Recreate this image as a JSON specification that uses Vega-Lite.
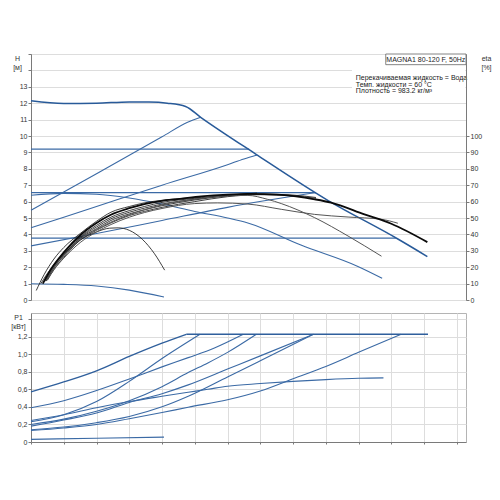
{
  "$schema": "https://vega.github.io/schema/vega-lite/v6.json",
  "background": "white",
  "padding": {"left": 10, "top": 53, "right": 4, "bottom": 4},
  "config": {
    "font": "Liberation Sans",
    "view": {"stroke": "#b4b4b4", "strokeWidth": 1},
    "axis": {
      "labelFontSize": 7, "labelColor": "#333333", "labelPadding": 1,
      "titleFontSize": 7, "titleFontWeight": "normal", "titleColor": "#333333",
      "gridColor": "#dddddd", "gridWidth": 1,
      "domainColor": "#7a7a7a", "tickColor": "#7a7a7a", "tickSize": 3
    }
  },
  "datasets": {
    "h": [
      {"c": "A", "q": 0, "h": 12.15}, {"c": "A", "q": 5, "h": 11.98}, {"c": "A", "q": 10, "h": 12.0},
      {"c": "A", "q": 15, "h": 12.08}, {"c": "A", "q": 18, "h": 12.07}, {"c": "A", "q": 20.8, "h": 12.0},
      {"c": "A", "q": 23.6, "h": 11.8}, {"c": "A", "q": 25.9, "h": 11.14}, {"c": "A", "q": 34.3, "h": 8.9},
      {"c": "A", "q": 45.3, "h": 6.08}, {"c": "A", "q": 56, "h": 3.72}, {"c": "A", "q": 60.5, "h": 2.65},
      {"c": "B", "q": 0, "h": 5.47}, {"c": "B", "q": 10, "h": 7.7}, {"c": "B", "q": 20, "h": 9.95},
      {"c": "B", "q": 23.9, "h": 10.84}, {"c": "B", "q": 25.9, "h": 11.14},
      {"c": "C", "q": 0, "h": 9.2}, {"c": "C", "q": 33.3, "h": 9.2},
      {"c": "D", "q": 0, "h": 4.4}, {"c": "D", "q": 10, "h": 5.7}, {"c": "D", "q": 20, "h": 7.0},
      {"c": "D", "q": 30, "h": 8.25}, {"c": "D", "q": 32.5, "h": 8.6}, {"c": "D", "q": 34.5, "h": 8.84},
      {"c": "E", "q": 0, "h": 6.55}, {"c": "E", "q": 43.5, "h": 6.55},
      {"c": "G", "q": 0, "h": 3.3}, {"c": "G", "q": 10, "h": 4.05}, {"c": "G", "q": 20, "h": 4.85},
      {"c": "G", "q": 30, "h": 5.65}, {"c": "G", "q": 43.5, "h": 6.55},
      {"c": "F", "q": 0, "h": 6.39}, {"c": "F", "q": 5, "h": 6.5}, {"c": "F", "q": 10, "h": 6.45},
      {"c": "F", "q": 15, "h": 6.22}, {"c": "F", "q": 20, "h": 5.85}, {"c": "F", "q": 25, "h": 5.4},
      {"c": "F", "q": 30, "h": 5.0}, {"c": "F", "q": 33.1, "h": 4.7}, {"c": "F", "q": 41.2, "h": 3.35},
      {"c": "F", "q": 49.9, "h": 2.05}, {"c": "F", "q": 53.6, "h": 1.33},
      {"c": "K", "q": 0, "h": 3.77}, {"c": "K", "q": 55.7, "h": 3.77},
      {"c": "I", "q": 0, "h": 0.99}, {"c": "I", "q": 5, "h": 0.95}, {"c": "I", "q": 10, "h": 0.85},
      {"c": "I", "q": 15, "h": 0.6}, {"c": "I", "q": 20.3, "h": 0.18}
    ],
    "e": [
      {"c": "maxe", "q": 1.8, "eta": 10}, {"c": "maxe", "q": 3, "eta": 18.5}, {"c": "maxe", "q": 5, "eta": 29},
      {"c": "maxe", "q": 7.5, "eta": 39.5}, {"c": "maxe", "q": 10, "eta": 47}, {"c": "maxe", "q": 12.2, "eta": 52},
      {"c": "maxe", "q": 15, "eta": 56}, {"c": "maxe", "q": 17.3, "eta": 58.5}, {"c": "maxe", "q": 20, "eta": 60.5},
      {"c": "maxe", "q": 22.4, "eta": 61.5}, {"c": "maxe", "q": 26, "eta": 63.2}, {"c": "maxe", "q": 30, "eta": 64.3},
      {"c": "maxe", "q": 33.1, "eta": 64.7}, {"c": "maxe", "q": 38.2, "eta": 64.1}, {"c": "maxe", "q": 43.3, "eta": 61.4},
      {"c": "maxe", "q": 45.8, "eta": 59.4}, {"c": "maxe", "q": 50.9, "eta": 52.2}, {"c": "maxe", "q": 55, "eta": 46.5},
      {"c": "maxe", "q": 60.5, "eta": 35.3},
      {"c": "Be", "q": 0.8, "eta": 5.8}, {"c": "Be", "q": 2, "eta": 15.5}, {"c": "Be", "q": 3.5, "eta": 25},
      {"c": "Be", "q": 5, "eta": 32}, {"c": "Be", "q": 7.5, "eta": 40.5}, {"c": "Be", "q": 10, "eta": 48},
      {"c": "Be", "q": 12.2, "eta": 53.5}, {"c": "Be", "q": 15, "eta": 57}, {"c": "Be", "q": 17.3, "eta": 59.2},
      {"c": "Be", "q": 20, "eta": 60.8}, {"c": "Be", "q": 24, "eta": 62.2}, {"c": "Be", "q": 25.9, "eta": 62.6},
      {"c": "Ce", "q": 2, "eta": 11.5}, {"c": "Ce", "q": 3.5, "eta": 21}, {"c": "Ce", "q": 5, "eta": 28.5},
      {"c": "Ce", "q": 7.5, "eta": 38.5}, {"c": "Ce", "q": 10, "eta": 45.5}, {"c": "Ce", "q": 12.2, "eta": 50.5},
      {"c": "Ce", "q": 15, "eta": 54.5}, {"c": "Ce", "q": 17.3, "eta": 57}, {"c": "Ce", "q": 20, "eta": 59.5},
      {"c": "Ce", "q": 25, "eta": 62}, {"c": "Ce", "q": 30, "eta": 63.8}, {"c": "Ce", "q": 33.3, "eta": 64.5},
      {"c": "De", "q": 2.2, "eta": 11.5}, {"c": "De", "q": 3.5, "eta": 20}, {"c": "De", "q": 5, "eta": 27.5},
      {"c": "De", "q": 7.5, "eta": 38}, {"c": "De", "q": 10, "eta": 44.5}, {"c": "De", "q": 12.2, "eta": 49.5},
      {"c": "De", "q": 15, "eta": 53.5}, {"c": "De", "q": 17.3, "eta": 56}, {"c": "De", "q": 20, "eta": 58.5},
      {"c": "De", "q": 25, "eta": 61.5}, {"c": "De", "q": 30, "eta": 63.8}, {"c": "De", "q": 34.5, "eta": 65.2},
      {"c": "Ee", "q": 2.3, "eta": 11.5}, {"c": "Ee", "q": 3.5, "eta": 19.5}, {"c": "Ee", "q": 5, "eta": 27},
      {"c": "Ee", "q": 7.5, "eta": 37.5}, {"c": "Ee", "q": 10, "eta": 43.5}, {"c": "Ee", "q": 12.2, "eta": 48.5},
      {"c": "Ee", "q": 15, "eta": 52.5}, {"c": "Ee", "q": 17.3, "eta": 55}, {"c": "Ee", "q": 20, "eta": 57.5},
      {"c": "Ee", "q": 25, "eta": 61}, {"c": "Ee", "q": 30, "eta": 63.5}, {"c": "Ee", "q": 35, "eta": 64.6},
      {"c": "Ee", "q": 40, "eta": 64}, {"c": "Ee", "q": 43.5, "eta": 62.5},
      {"c": "Ge", "q": 2.5, "eta": 12}, {"c": "Ge", "q": 3.5, "eta": 18.5}, {"c": "Ge", "q": 5, "eta": 26},
      {"c": "Ge", "q": 7.5, "eta": 36.5}, {"c": "Ge", "q": 10, "eta": 42.5}, {"c": "Ge", "q": 12.2, "eta": 47},
      {"c": "Ge", "q": 15, "eta": 51.5}, {"c": "Ge", "q": 17.3, "eta": 54}, {"c": "Ge", "q": 20, "eta": 56.5},
      {"c": "Ge", "q": 25, "eta": 60}, {"c": "Ge", "q": 30, "eta": 63}, {"c": "Ge", "q": 35, "eta": 64.2},
      {"c": "Ge", "q": 40, "eta": 63.5}, {"c": "Ge", "q": 43.5, "eta": 62},
      {"c": "Fe", "q": 2.2, "eta": 12}, {"c": "Fe", "q": 3.5, "eta": 20}, {"c": "Fe", "q": 5, "eta": 27},
      {"c": "Fe", "q": 7.5, "eta": 37}, {"c": "Fe", "q": 10, "eta": 43}, {"c": "Fe", "q": 12.2, "eta": 47.5},
      {"c": "Fe", "q": 15, "eta": 52}, {"c": "Fe", "q": 17.3, "eta": 55}, {"c": "Fe", "q": 20, "eta": 58},
      {"c": "Fe", "q": 25, "eta": 61.5}, {"c": "Fe", "q": 30, "eta": 63.5}, {"c": "Fe", "q": 33, "eta": 63.8},
      {"c": "Fe", "q": 36.1, "eta": 61.4}, {"c": "Fe", "q": 38.2, "eta": 58.8}, {"c": "Fe", "q": 43.3, "eta": 50.2},
      {"c": "Fe", "q": 48.4, "eta": 39}, {"c": "Fe", "q": 53.5, "eta": 26.7},
      {"c": "He", "q": 2.4, "eta": 12}, {"c": "He", "q": 3.5, "eta": 18.5}, {"c": "He", "q": 5, "eta": 25.5},
      {"c": "He", "q": 7.5, "eta": 35}, {"c": "He", "q": 10, "eta": 41.5}, {"c": "He", "q": 12.2, "eta": 46},
      {"c": "He", "q": 15, "eta": 50.5}, {"c": "He", "q": 17.3, "eta": 53.3}, {"c": "He", "q": 20, "eta": 55.8},
      {"c": "He", "q": 25, "eta": 58.8}, {"c": "He", "q": 28.5, "eta": 59.2}, {"c": "He", "q": 33.1, "eta": 58.5},
      {"c": "He", "q": 38.2, "eta": 55.3}, {"c": "He", "q": 43.3, "eta": 52.2}, {"c": "He", "q": 48.4, "eta": 50.6},
      {"c": "He", "q": 53.5, "eta": 49.2}, {"c": "He", "q": 56, "eta": 46.8},
      {"c": "Ie", "q": 1.5, "eta": 10}, {"c": "Ie", "q": 3, "eta": 19}, {"c": "Ie", "q": 5, "eta": 28},
      {"c": "Ie", "q": 7.5, "eta": 36.5}, {"c": "Ie", "q": 10, "eta": 41.5}, {"c": "Ie", "q": 12, "eta": 43.8},
      {"c": "Ie", "q": 13.3, "eta": 44}, {"c": "Ie", "q": 15, "eta": 42.5}, {"c": "Ie", "q": 17, "eta": 37},
      {"c": "Ie", "q": 18.8, "eta": 28.5}, {"c": "Ie", "q": 20.4, "eta": 18.2}
    ],
    "p": [
      {"c": "A", "q": 0, "p": 0.57}, {"c": "A", "q": 5, "p": 0.683}, {"c": "A", "q": 10, "p": 0.81},
      {"c": "A", "q": 15, "p": 0.974}, {"c": "A", "q": 20, "p": 1.125}, {"c": "A", "q": 23.7, "p": 1.226},
      {"c": "Af", "q": 23.7, "p": 1.226}, {"c": "Af", "q": 60.6, "p": 1.226},
      {"c": "B", "q": 0, "p": 0.23}, {"c": "B", "q": 5, "p": 0.31}, {"c": "B", "q": 10, "p": 0.46},
      {"c": "B", "q": 15, "p": 0.69}, {"c": "B", "q": 20, "p": 0.95}, {"c": "B", "q": 25.8, "p": 1.226},
      {"c": "C", "q": 0, "p": 0.39}, {"c": "C", "q": 5, "p": 0.47}, {"c": "C", "q": 10, "p": 0.585},
      {"c": "C", "q": 15, "p": 0.717}, {"c": "C", "q": 20, "p": 0.855}, {"c": "C", "q": 24, "p": 0.96},
      {"c": "C", "q": 28, "p": 1.07}, {"c": "C", "q": 32.4, "p": 1.226},
      {"c": "D", "q": 0, "p": 0.2}, {"c": "D", "q": 5, "p": 0.26}, {"c": "D", "q": 10, "p": 0.35},
      {"c": "D", "q": 15, "p": 0.47}, {"c": "D", "q": 20, "p": 0.63}, {"c": "D", "q": 24, "p": 0.79},
      {"c": "D", "q": 27, "p": 0.9}, {"c": "D", "q": 30, "p": 1.02}, {"c": "D", "q": 34.4, "p": 1.226},
      {"c": "E", "q": 0, "p": 0.18}, {"c": "E", "q": 5, "p": 0.25}, {"c": "E", "q": 10, "p": 0.33},
      {"c": "E", "q": 15, "p": 0.45}, {"c": "E", "q": 20, "p": 0.55}, {"c": "E", "q": 24, "p": 0.65},
      {"c": "E", "q": 30, "p": 0.83}, {"c": "E", "q": 35, "p": 0.98}, {"c": "E", "q": 43.1, "p": 1.226},
      {"c": "G", "q": 0, "p": 0.14}, {"c": "G", "q": 5, "p": 0.17}, {"c": "G", "q": 10, "p": 0.22},
      {"c": "G", "q": 15, "p": 0.29}, {"c": "G", "q": 20, "p": 0.4}, {"c": "G", "q": 24, "p": 0.52},
      {"c": "G", "q": 30, "p": 0.74}, {"c": "G", "q": 35, "p": 0.925}, {"c": "G", "q": 43.1, "p": 1.226},
      {"c": "F", "q": 0, "p": 0.245}, {"c": "F", "q": 5, "p": 0.31}, {"c": "F", "q": 10, "p": 0.39},
      {"c": "F", "q": 15, "p": 0.46}, {"c": "F", "q": 20, "p": 0.52}, {"c": "F", "q": 24, "p": 0.566},
      {"c": "F", "q": 27, "p": 0.6}, {"c": "F", "q": 30, "p": 0.635}, {"c": "F", "q": 35, "p": 0.665},
      {"c": "F", "q": 40, "p": 0.69}, {"c": "F", "q": 45, "p": 0.71}, {"c": "F", "q": 50, "p": 0.725},
      {"c": "F", "q": 53.8, "p": 0.73},
      {"c": "H", "q": 0, "p": 0.13}, {"c": "H", "q": 5, "p": 0.16}, {"c": "H", "q": 10, "p": 0.2},
      {"c": "H", "q": 15, "p": 0.265}, {"c": "H", "q": 20, "p": 0.335}, {"c": "H", "q": 24, "p": 0.396},
      {"c": "H", "q": 30, "p": 0.48}, {"c": "H", "q": 35, "p": 0.58}, {"c": "H", "q": 40, "p": 0.72},
      {"c": "H", "q": 45, "p": 0.86}, {"c": "H", "q": 50, "p": 1.02}, {"c": "H", "q": 56.5, "p": 1.226},
      {"c": "I", "q": 0, "p": 0.03}, {"c": "I", "q": 10, "p": 0.043}, {"c": "I", "q": 20.3, "p": 0.055}
    ]
  },
  "spacing": 13,
  "bounds": "flush",
  "vconcat": [
    {
      "width": 435,
      "height": 246,
      "layer": [
        {
          "data": {"name": "h"},
          "transform": [{"filter": "datum.c !== 'A'"}],
          "mark": {"type": "line", "color": "#3b6aa5", "strokeWidth": 1.1, "interpolate": "monotone"},
          "encoding": {
            "detail": {"field": "c"},
            "x": {
              "field": "q", "type": "quantitative",
              "scale": {"domain": [0, 66.4], "nice": false, "zero": false},
              "axis": {
                "values": [0, 5, 10, 15, 20, 25, 30, 35, 40, 45, 50, 55, 60, 65],
                "labelExpr": "datum.value <= 60 ? datum.label : ''",
                "grid": true, "tickSize": 2,
                "title": "Q [м³/ч]", "titleX": 434, "titleY": 6,
                "titleAlign": "right", "titleBaseline": "middle"
              }
            },
            "y": {
              "field": "h", "type": "quantitative",
              "scale": {"domain": [0, 15], "nice": false},
              "axis": {
                "orient": "left",
                "values": [0, 1, 2, 3, 4, 5, 6, 7, 8, 9, 10, 11, 12, 13, 14, 15],
                "labelExpr": "datum.value <= 13 ? datum.label : ''",
                "grid": true,
                "title": ["H", "[м]"], "titleAngle": 0, "titleX": -14, "titleY": 0,
                "titleAlign": "center", "titleBaseline": "top", "titleLineHeight": 9
              }
            }
          }
        },
        {
          "data": {"name": "h"},
          "transform": [{"filter": "datum.c === 'A'"}],
          "mark": {"type": "line", "color": "#285a99", "strokeWidth": 1.5, "interpolate": "monotone"},
          "encoding": {
            "x": {"field": "q", "type": "quantitative", "scale": {"domain": [0, 66.4], "nice": false, "zero": false}, "axis": null},
            "y": {"field": "h", "type": "quantitative", "scale": {"domain": [0, 15], "nice": false}, "axis": null}
          }
        },
        {
          "data": {"name": "e"},
          "transform": [{"filter": "datum.c !== 'Fe' && datum.c !== 'He' && datum.c !== 'maxe'"}],
          "mark": {"type": "line", "color": "#1e1e1e", "strokeWidth": 0.85, "interpolate": "monotone"},
          "encoding": {
            "detail": {"field": "c"},
            "x": {"field": "q", "type": "quantitative", "scale": {"domain": [0, 66.4], "nice": false, "zero": false}, "axis": null},
            "y": {
              "field": "eta", "type": "quantitative",
              "scale": {"domain": [0, 150], "nice": false},
              "axis": {
                "orient": "right",
                "values": [0, 10, 20, 30, 40, 50, 60, 70, 80, 90, 100],
                "grid": false, "zindex": 1,
                "title": ["eta", "[%]"], "titleAngle": 0, "titleX": 20, "titleY": 0,
                "titleAlign": "center", "titleBaseline": "top", "titleLineHeight": 9
              }
            }
          }
        },
        {
          "data": {"name": "e"},
          "transform": [{"filter": "datum.c === 'Fe' || datum.c === 'He'"}],
          "mark": {"type": "line", "color": "#555555", "strokeWidth": 1, "interpolate": "monotone"},
          "encoding": {
            "detail": {"field": "c"},
            "x": {"field": "q", "type": "quantitative", "scale": {"domain": [0, 66.4], "nice": false, "zero": false}, "axis": null},
            "y": {"field": "eta", "type": "quantitative", "scale": {"domain": [0, 150], "nice": false}, "axis": null}
          }
        },
        {
          "data": {"name": "e"},
          "transform": [{"filter": "datum.c === 'maxe'"}],
          "mark": {"type": "line", "color": "#0a0a0a", "strokeWidth": 1.8, "interpolate": "monotone"},
          "encoding": {
            "x": {"field": "q", "type": "quantitative", "scale": {"domain": [0, 66.4], "nice": false, "zero": false}, "axis": null},
            "y": {"field": "eta", "type": "quantitative", "scale": {"domain": [0, 150], "nice": false}, "axis": null}
          }
        },
        {
          "data": {"values": [{}]},
          "mark": {"type": "rect", "fill": "white"},
          "encoding": {
            "x": {"datum": 49.0, "type": "quantitative", "axis": null},
            "x2": {"datum": 66.3},
            "y": {"datum": 12.85, "type": "quantitative", "scale": {"domain": [0, 15], "nice": false}, "axis": null},
            "y2": {"datum": 14.94}
          }
        },
        {
          "data": {"values": [{}]},
          "mark": {"type": "rect", "fill": "white", "stroke": "#666666", "strokeWidth": 0.8},
          "encoding": {
            "x": {"datum": 54.15, "type": "quantitative", "axis": null},
            "x2": {"datum": 66.4},
            "y": {"datum": 14.35, "type": "quantitative", "scale": {"domain": [0, 15], "nice": false}, "axis": null},
            "y2": {"datum": 15}
          }
        },
        {
          "data": {"values": [{}]},
          "mark": {"type": "text", "fontSize": 7, "color": "#222222", "align": "center", "baseline": "middle"},
          "encoding": {
            "x": {"datum": 60.27, "type": "quantitative", "axis": null},
            "y": {"datum": 14.66, "type": "quantitative", "scale": {"domain": [0, 15], "nice": false}, "axis": null},
            "text": {"value": "MAGNA1 80-120 F, 50Hz"}
          }
        },
        {
          "data": {"values": [{}]},
          "mark": {"type": "text", "fontSize": 7, "color": "#222222", "align": "left", "baseline": "middle", "lineHeight": 6.6},
          "encoding": {
            "x": {"datum": 49.57, "type": "quantitative", "axis": null},
            "y": {"datum": 13.53, "type": "quantitative", "scale": {"domain": [0, 15], "nice": false}, "axis": null},
            "text": {"value": ["Перекачиваемая жидкость = Вода", "Темп. жидкости = 60 °C", "Плотность = 983.2 кг/м³"]}
          }
        }
      ],
      "resolve": {"scale": {"y": "independent"}}
    },
    {
      "width": 435,
      "height": 129,
      "data": {"name": "p"},
      "encoding": {
        "x": {
          "field": "q", "type": "quantitative",
          "scale": {"domain": [0, 66.4], "nice": false, "zero": false},
          "axis": {
            "values": [0, 5, 10, 15, 20, 25, 30, 35, 40, 45, 50, 55, 60, 65],
            "labels": false, "grid": true, "tickSize": 2, "title": null
          }
        },
        "y": {
          "field": "p", "type": "quantitative",
          "scale": {"domain": [0, 1.468], "nice": false},
          "axis": {
            "values": [0, 0.2, 0.4, 0.6, 0.8, 1, 1.2, 1.4],
            "labelExpr": "datum.value > 1.3 ? '' : (datum.value == 0 ? '0' : replace(format(datum.value, '.1f'), '.', ','))",
            "grid": true,
            "title": ["P1", "[кВт]"], "titleAngle": 0, "titleX": -13, "titleY": 0,
            "titleAlign": "center", "titleBaseline": "top", "titleLineHeight": 9
          }
        }
      },
      "layer": [
        {
          "transform": [{"filter": "datum.c !== 'A' && datum.c !== 'Af'"}],
          "mark": {"type": "line", "color": "#3b6aa5", "strokeWidth": 1.1, "interpolate": "monotone"},
          "encoding": {"detail": {"field": "c"}}
        },
        {
          "transform": [{"filter": "datum.c === 'A' || datum.c === 'Af'"}],
          "mark": {"type": "line", "color": "#2f5f9c", "strokeWidth": 1.3, "interpolate": "monotone"},
          "encoding": {"detail": {"field": "c"}}
        }
      ]
    }
  ]
}
